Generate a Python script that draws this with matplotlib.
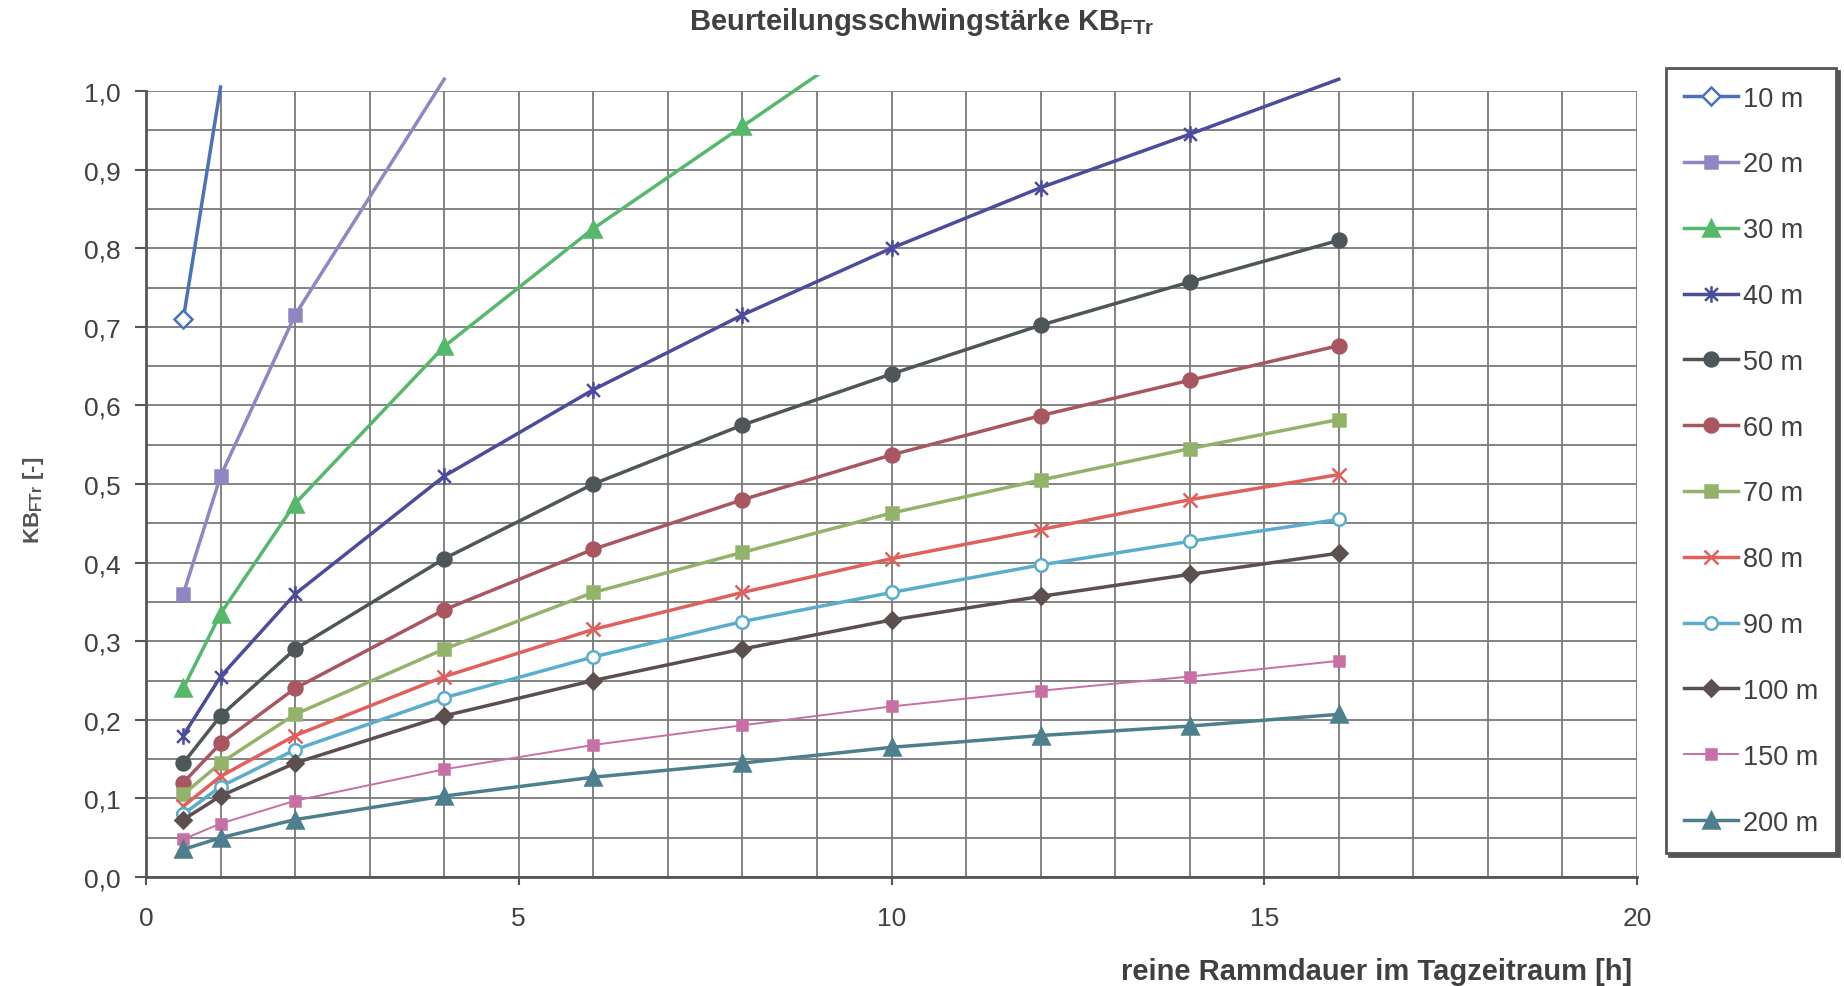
import matplotlib
matplotlib.use("Agg")
import matplotlib.pyplot as plt
from matplotlib.lines import Line2D
from matplotlib.patches import Rectangle
from matplotlib.path import Path
from matplotlib.ticker import MultipleLocator, FuncFormatter
import numpy as np

plt.rcParams['font.family'] = ['Liberation Sans', 'DejaVu Sans']

# reine Rammdauer [h]
hours = [0.5, 1, 2, 4, 6, 8, 10, 12, 14, 16]

# KB_FTr, one list per distance (only up to the first point above 1,0)
kb_10 = [0.71, 1.005]
kb_20 = [0.36, 0.51, 0.715, 1.015]
kb_30 = [0.24, 0.335, 0.475, 0.675, 0.825, 0.955, 1.085]
kb_40 = [0.18, 0.255, 0.36, 0.51, 0.62, 0.715, 0.80, 0.877, 0.945, 1.015]
kb_50 = [0.145, 0.205, 0.29, 0.405, 0.50, 0.575, 0.64, 0.702, 0.757, 0.81]
kb_60 = [0.12, 0.17, 0.24, 0.34, 0.417, 0.48, 0.537, 0.587, 0.632, 0.676]
kb_70 = [0.105, 0.145, 0.207, 0.29, 0.362, 0.413, 0.463, 0.505, 0.545, 0.582]
kb_80 = [0.09, 0.128, 0.18, 0.255, 0.315, 0.362, 0.405, 0.442, 0.48, 0.512]
kb_90 = [0.08, 0.115, 0.162, 0.228, 0.28, 0.325, 0.362, 0.397, 0.427, 0.455]
kb_100 = [0.073, 0.103, 0.145, 0.205, 0.25, 0.29, 0.327, 0.357, 0.385, 0.412]
kb_150 = [0.048, 0.068, 0.097, 0.137, 0.168, 0.193, 0.217, 0.237, 0.255, 0.275]
kb_200 = [0.035, 0.05, 0.073, 0.103, 0.127, 0.145, 0.165, 0.18, 0.192, 0.207]

labels = ['10 m', '20 m', '30 m', '40 m', '50 m', '60 m',
          '70 m', '80 m', '90 m', '100 m', '150 m', '200 m']
series = [kb_10, kb_20, kb_30, kb_40, kb_50, kb_60,
          kb_70, kb_80, kb_90, kb_100, kb_150, kb_200]

# Excel style star marker: x plus vertical bar
star = Path([(-1, -1), (1, 1), (-1, 1), (1, -1), (0, -1.3), (0, 1.3)],
            [Path.MOVETO, Path.LINETO, Path.MOVETO, Path.LINETO, Path.MOVETO, Path.LINETO])

styles = [
    dict(color='#4a72b8', marker='D', ms=9, mfc='white', lw=2.5),
    dict(color='#8f86c4', marker='s', ms=9, lw=2.5),
    dict(color='#55b86a', marker='^', ms=11, lw=2.5),
    dict(color='#4c4c9c', marker=star, ms=12, mfc='none', lw=2.5),
    dict(color='#4f5659', marker='o', ms=10, lw=2.5),
    dict(color='#a85660', marker='o', ms=10, lw=2.5),
    dict(color='#93b36a', marker='s', ms=9, lw=2.5),
    dict(color='#e0605c', marker='x', ms=10, lw=2.5),
    dict(color='#5aaecb', marker='o', ms=9, mfc='white', lw=2.5),
    dict(color='#5b4f50', marker='D', ms=8, lw=2.5),
    dict(color='#c86fa3', marker='s', ms=6.5, lw=1.4),
    dict(color='#4e7f8e', marker='^', ms=11, lw=2.5),
]

text_col = '#404040'
grid_col = '#7a7a7a'

fig = plt.figure(figsize=(18.44, 9.87), dpi=100)
ax = fig.add_axes([146 / 1844, 1 - 878 / 987, (1637 - 146) / 1844, (878 - 92) / 987])

ax.set_xlim(0, 20)
ax.set_ylim(0, 1.0)
ax.xaxis.set_major_locator(MultipleLocator(5))
ax.xaxis.set_minor_locator(MultipleLocator(1))
ax.yaxis.set_major_locator(MultipleLocator(0.1))
ax.yaxis.set_minor_locator(MultipleLocator(0.05))
ax.yaxis.set_major_formatter(FuncFormatter(lambda v, p: ('%.1f' % v).replace('.', ',')))
ax.grid(True, which='both', color=grid_col, lw=1.3)
ax.set_axisbelow(True)
ax.tick_params(which='minor', length=0)
ax.tick_params(axis='y', which='major', length=8, width=1.5, color='#555555',
               labelsize=19, labelcolor=text_col, pad=10)
ax.tick_params(axis='x', which='major', length=6, width=1.5, color='#555555',
               labelsize=19, labelcolor=text_col, pad=15)
for s in ['top', 'right']:
    ax.spines[s].set_visible(False)
for s in ['left', 'bottom']:
    ax.spines[s].set_color('#555555')
    ax.spines[s].set_linewidth(2)

# lines may run a little above 1,0 as in the original
clip = Rectangle((0, 0), 1, 1.02, transform=ax.transAxes, visible=False)
ax.add_patch(clip)

handles = []
for vals, lab, st in zip(series, labels, styles):
    x = np.array(hours[:len(vals)])
    y = np.array(vals)
    ln, = ax.plot(x, y, color=st['color'], lw=st['lw'], clip_on=True)
    ln.set_clip_path(clip)
    keep = y <= 1.0
    mfc = st.get('mfc', st['color'])
    ax.plot(x[keep], y[keep], ls='none', marker=st['marker'], ms=st['ms'],
            mfc=mfc, mec=st['color'], mew=1.8)
    handles.append(Line2D([], [], color=st['color'], lw=st['lw'], marker=st['marker'],
                          ms=st['ms'], mfc=mfc, mec=st['color'], mew=1.8))

leg = fig.legend(handles, labels, loc='upper left',
                 bbox_to_anchor=(1666 / 1844, 1 - 69 / 987), borderaxespad=0,
                 fontsize=19.5, labelspacing=1.47, handlelength=2.0, handletextpad=0.2,
                 borderpad=0.65, frameon=True, fancybox=False,
                 shadow={'color': '#555555', 'alpha': 1})
leg.get_frame().set_edgecolor('#555555')
leg.get_frame().set_linewidth(2)
for t in leg.get_texts():
    t.set_color(text_col)

fig.text(0.5, 1 - 22 / 987, 'Beurteilungsschwingstärke KB$_\\mathregular{FTr}$',
         ha='center', va='center', fontsize=21, fontweight='bold', color=text_col)
fig.text(1632 / 1844, 1 - 972 / 987, 'reine Rammdauer im Tagzeitraum [h]',
         ha='right', va='center', fontsize=21, fontweight='bold', color=text_col)
fig.text(33 / 1844, 1 - 500 / 987, 'KB$_\\mathregular{FTr}$ [-]', rotation=90,
         ha='center', va='center', fontsize=16, fontweight='bold', color='#555555')

fig.savefig('out.png', dpi=100, facecolor='white')
